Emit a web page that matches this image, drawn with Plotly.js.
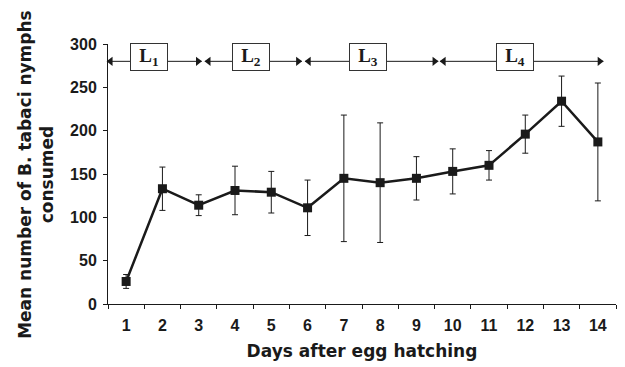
<!DOCTYPE html>
<html>
<head>
<meta charset="utf-8">
<script src="https://cdn.plot.ly/plotly-3.0.1.min.js"></script>
<style>html,body{margin:0;padding:0;background:#fff;}#chart{width:625px;height:367px;}</style>
</head>
<body>
<div id="chart"></div>
<script>
// Data
const days = [1, 2, 3, 4, 5, 6, 7, 8, 9, 10, 11, 12, 13, 14];
const meanConsumed = [26, 133, 114, 131, 129, 111, 145, 140, 145, 153, 160, 196, 234, 187];
const errConsumed = [8, 25, 12, 28, 24, 32, 73, 69, 25, 26, 17, 22, 29, 68];
const yTicks = [0, 50, 100, 150, 200, 250, 300];

// Larval stages (in days after hatching)
const stageLabels = ['L<sub>1</sub>', 'L<sub>2</sub>', 'L<sub>3</sub>', 'L<sub>4</sub>'];
const stageStart = [0.47, 3.17, 5.93, 9.65];
const stageEnd = [3.08, 5.84, 9.6, 14.15];
const stageLabelPos = [1.63, 4.44, 7.66, 11.72];
const stageLevel = 280;

const ink = '#1a1a1a';
const headOff = 0.1;    // arrow-head marker centre offset from tip (day units)

const trace = {
  type: 'scatter',
  mode: 'lines+markers',
  x: days,
  y: meanConsumed,
  line: {color: ink, width: 2.5},
  marker: {symbol: 'square', size: 9, color: ink},
  error_y: {type: 'data', array: errConsumed, visible: true, color: ink, thickness: 1, width: 3},
  cliponaxis: false,
  showlegend: false
};

const headsLeft = {
  type: 'scatter', mode: 'markers',
  x: stageStart.map(d => d + headOff), y: stageStart.map(() => stageLevel),
  marker: {symbol: 'triangle-left', size: 8, color: ink},
  cliponaxis: false, showlegend: false, hoverinfo: 'skip'
};
const headsRight = {
  type: 'scatter', mode: 'markers',
  x: stageEnd.map(d => d - headOff), y: stageEnd.map(() => stageLevel),
  marker: {symbol: 'triangle-right', size: 8, color: ink},
  cliponaxis: false, showlegend: false, hoverinfo: 'skip'
};

const shapes = stageStart.map((s, i) => ({
  type: 'line', xref: 'x', yref: 'y',
  x0: s, x1: stageEnd[i], y0: stageLevel, y1: stageLevel,
  line: {color: ink, width: 1}
}));

const annotations = stageLabels.map((lab, i) => ({
  x: stageLabelPos[i], y: stageLevel + 4.5, xref: 'x', yref: 'y',
  text: lab, showarrow: false,
  font: {family: 'Liberation Serif, Times New Roman, serif', size: 19, color: ink},
  bgcolor: '#ffffff', bordercolor: '#333333', borderwidth: 1,
  width: 36, height: 26, borderpad: 0
}));
annotations.push({
  xref: 'paper', yref: 'paper', x: -0.142, y: 0.5,
  xanchor: 'center', yanchor: 'middle',
  text: 'Mean number of B. tabaci nymphs<br>consumed',
  textangle: -90, showarrow: false,
  font: {family: 'DejaVu Sans, sans-serif', size: 17, color: ink, weight: 700}
});

const layout = {
  width: 625, height: 367,
  margin: {l: 108, r: 9, t: 44, b: 63},
  paper_bgcolor: '#ffffff', plot_bgcolor: '#ffffff',
  font: {family: 'Liberation Sans, Arial, sans-serif', color: ink, weight: 700},
  xaxis: {
    range: [0.5, 14.5], tickvals: days, ticktext: days.map(String),
    showline: true, linecolor: ink, linewidth: 1,
    ticks: '', showgrid: false, zeroline: false, ticklabelstandoff: 7,
    minor: {tickvals: days.map(d => d - 0.5).concat([days[days.length - 1] + 0.5]), ticks: 'outside', ticklen: 4, tickcolor: ink, showgrid: false},
    tickfont: {family: 'Liberation Sans, Arial, sans-serif', size: 16, weight: 700, color: ink},
    title: {text: 'Days after egg hatching', font: {family: 'DejaVu Sans, sans-serif', size: 17, weight: 700, color: ink}, standoff: 11}
  },
  yaxis: {
    range: [0, 300], tickvals: yTicks,
    showline: true, linecolor: ink, linewidth: 1,
    ticks: 'outside', ticklen: 4, tickcolor: ink, ticklabelstandoff: 3,
    showgrid: false, zeroline: false,
    tickfont: {family: 'Liberation Sans, Arial, sans-serif', size: 16, weight: 700, color: ink}
  },
  shapes: shapes,
  annotations: annotations
};

Plotly.newPlot('chart', [trace, headsLeft, headsRight], layout, {displayModeBar: false, staticPlot: true});
</script>
</body>
</html>
